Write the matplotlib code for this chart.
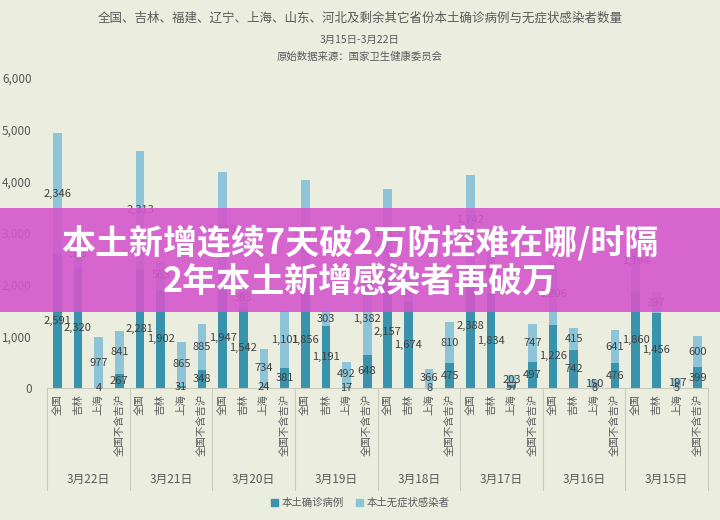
import matplotlib
matplotlib.use("Agg")
import matplotlib.pyplot as plt
import matplotlib.transforms as mtransforms
from matplotlib.patches import Patch, Rectangle

plt.rcParams["font.family"] = ["Noto Sans CJK SC", "DejaVu Sans"]

dates = ["3月22日", "3月21日", "3月20日", "3月19日", "3月18日", "3月17日", "3月16日", "3月15日"]
regions = ["全国", "吉林", "上海", "全国不含吉沪"]

# 本土确诊病例, per date: 全国, 吉林, 上海, 全国不含吉沪
confirmed = [
    [2591, 2320, 4, 267],
    [2281, 1902, 31, 348],
    [1947, 1542, 24, 381],
    [1856, 1191, 17, 648],
    [2157, 1674, 8, 475],
    [2388, 1834, 57, 497],
    [1226, 742, 8, 476],
    [1860, 1456, 5, 399],
]
# 本土无症状感染者
asymptomatic = [
    [2346, 528, 977, 841],
    [2313, 563, 865, 885],
    [2228, 393, 734, 1101],
    [2177, 303, 492, 1382],
    [1703, 527, 366, 810],
    [1742, 792, 203, 747],
    [1206, 415, 150, 641],
    [1194, 397, 197, 600],
]

bg = "#EBEEDF"
dark = "#3A93AD"
light = "#8EC4D7"
grey = "#595959"

fig = plt.figure(figsize=(7.2, 5.2), dpi=100, facecolor=bg)
ax = fig.add_axes([47 / 720, (520 - 388) / 520, 661 / 720, 310 / 520], facecolor=bg)

xs, conf, asym, cats = [], [], [], []
for g in range(len(dates)):
    for r in range(len(regions)):
        xs.append(g * 4 + r)
        conf.append(confirmed[g][r])
        asym.append(asymptomatic[g][r])
        cats.append(regions[r])

bw = 0.42
ax.bar(xs, conf, width=bw, color=dark, zorder=2)
ax.bar(xs, asym, width=bw, bottom=conf, color=light, zorder=2)

for x, c, a in zip(xs, conf, asym):
    ax.text(x, c / 2, f"{c:,}", ha="center", va="center", fontsize=8, color="#404040", zorder=3)
    ax.text(x, c + a / 2, f"{a:,}", ha="center", va="center", fontsize=8, color="#404040", zorder=3)

ax.set_xlim(-0.5, 31.5)
ax.set_ylim(0, 6000)
ax.set_yticks(range(0, 6001, 1000))
ax.set_yticklabels([f"{v:,}" for v in range(0, 6001, 1000)], fontsize=8.5, color=grey)
ax.tick_params(axis="y", length=0, pad=11)
ax.set_xticks([])
for s in ["top", "right", "left"]:
    ax.spines[s].set_visible(False)
ax.spines["bottom"].set_color("#C8CABE")
ax.spines["bottom"].set_linewidth(0.8)

# category axis: region labels, date groups, separators
trans = mtransforms.blended_transform_factory(ax.transData, ax.transAxes)
for x, name in zip(xs, cats):
    ax.text(x, -0.02, name, rotation=90, ha="center", va="top", fontsize=7.5,
            color=grey, transform=trans)
for g, d in enumerate(dates):
    ax.text(g * 4 + 1.5, -0.295, d, ha="center", va="center", fontsize=8.5,
            color=grey, transform=trans)
for g in range(len(dates) + 1):
    ax.plot([g * 4 - 0.5] * 2, [0, -0.33], color="#C8CABE", lw=0.8,
            transform=trans, clip_on=False)

fig.text(0.5, 1 - 18 / 520, "全国、吉林、福建、辽宁、上海、山东、河北及剩余其它省份本土确诊病例与无症状感染者数量",
         ha="center", va="center", fontsize=9, color=grey)
fig.text(0.5, 1 - 40 / 520, "3月15日-3月22日", ha="center", va="center", fontsize=7.5, color=grey)
fig.text(0.5, 1 - 57 / 520, "原始数据来源：国家卫生健康委员会", ha="center", va="center",
         fontsize=7.5, color=grey)

fig.legend(handles=[Patch(color=dark, label="本土确诊病例"), Patch(color=light, label="本土无症状感染者")],
           loc="center", bbox_to_anchor=(0.5, 1 - 503 / 520), ncol=2, frameon=False,
           fontsize=7.5, handlelength=0.7, handleheight=0.7, handletextpad=0.3,
           columnspacing=1.2, labelcolor=grey)

# headline banner over the chart
fig.patches.append(Rectangle((0, (520 - 312) / 520), 1, 104 / 520, transform=fig.transFigure,
                             facecolor="#D456CB", alpha=0.9, zorder=10))
fig.text(0.5, 1 - 243 / 520, "本土新增连续7天破2万防控难在哪/时隔", ha="center", va="center",
         fontsize=24.5, fontweight="heavy", color="white", zorder=11)
fig.text(0.5, 1 - 281 / 520, "2年本土新增感染者再破万", ha="center", va="center",
         fontsize=24.5, fontweight="heavy", color="white", zorder=11)

fig.savefig("out.png", dpi=100, facecolor=bg)
